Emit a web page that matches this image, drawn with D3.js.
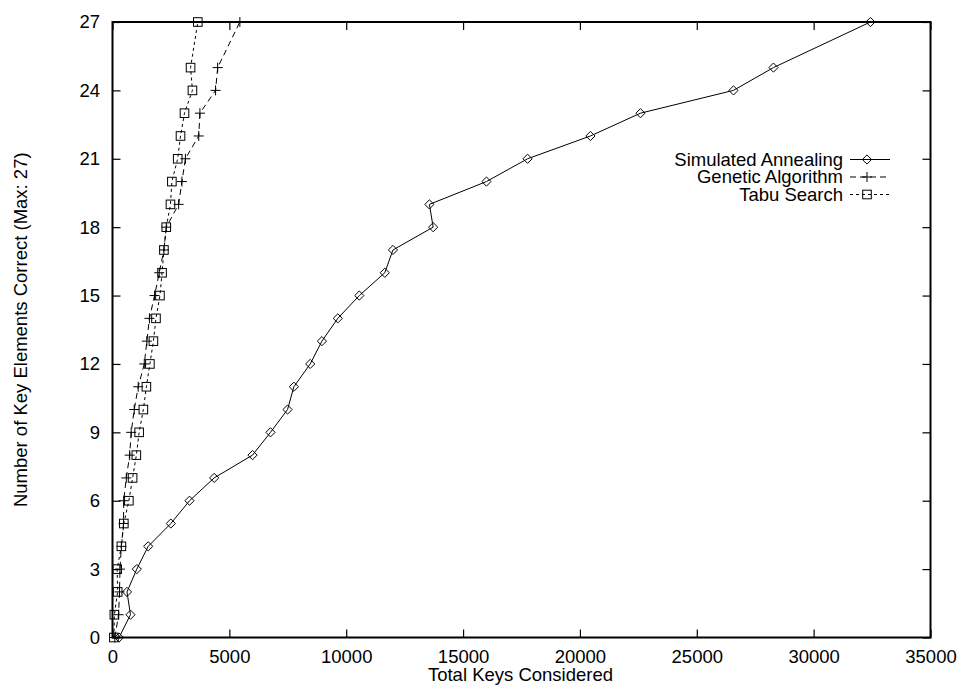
<!DOCTYPE html>
<html>
<head>
<meta charset="utf-8">
<script src="https://cdn.jsdelivr.net/npm/d3@7"></script>
<style>
  html, body { margin: 0; padding: 0; background: #fff; }
  svg { display: block; }
  text { font-family: "Liberation Sans", Arial, Helvetica, sans-serif; fill: #000; }
</style>
</head>
<body>
<svg id="chart" width="959" height="686"></svg>
<script>
// ---- data ----
const levels = [0,1,2,3,4,5,6,7,8,9,10,11,12,13,14,15,16,17,18,19,20,21,22,23,24,25,27];
const saKeys = [280,770,620,1040,1527,2495,3295,4350,5990,6760,7490,7760,8460,8960,9640,10560,11650,12000,13720,13560,16000,17760,20450,22590,26570,28280,32430];
const gaKeys = [100,260,300,320,380,470,480,590,735,800,930,1100,1360,1470,1580,1800,2000,2200,2300,2830,2970,3120,3690,3740,4410,4500,5450];
const tabuKeys = [60,80,220,200,380,485,700,860,1020,1140,1320,1450,1600,1750,1860,2030,2120,2200,2300,2480,2540,2790,2910,3080,3420,3340,3650];
const seriesNames = ["Simulated Annealing","Genetic Algorithm","Tabu Search"];
const xTicks = [0,5000,10000,15000,20000,25000,30000,35000];
const yTicks = [0,3,6,9,12,15,18,21,24,27];
const xTitle = "Total Keys Considered";
const yTitle = "Number of Key Elements Correct (Max: 27)";

// ---- layout ----
const L = 112.5, R = 930.5, T = 22, B = 637.5;
const svg = d3.select("#chart");
const x = d3.scaleLinear().domain([0,35000]).range([L,R]);
const y = d3.scaleLinear().domain([0,27]).range([B,T]);
const FS = 18.5;

const series = [
  {name: seriesNames[0], keys: saKeys, dash: null, marker: "diamond"},
  {name: seriesNames[1], keys: gaKeys, dash: "6,4", marker: "plus"},
  {name: seriesNames[2], keys: tabuKeys, dash: "3,3", marker: "square"}
];

// axes (ticks inside, mirrored)
const tickLen = 8;
const axB = svg.append("g").attr("transform",`translate(0,${B})`)
  .call(d3.axisBottom(x).tickValues(xTicks).tickSize(-tickLen).tickFormat(d3.format("d")).tickPadding(12.5));
const axT = svg.append("g").attr("transform",`translate(0,${T})`)
  .call(d3.axisTop(x).tickValues(xTicks).tickSize(-tickLen).tickFormat(""));
const axL = svg.append("g").attr("transform",`translate(${L},0)`)
  .call(d3.axisLeft(y).tickValues(yTicks).tickSize(-tickLen).tickPadding(12.5));
const axR = svg.append("g").attr("transform",`translate(${R},0)`)
  .call(d3.axisRight(y).tickValues(yTicks).tickSize(-tickLen).tickFormat(""));
[axB,axT,axL,axR].forEach(a => {
  a.select(".domain").remove();
  a.selectAll(".tick line").attr("stroke","#000").attr("stroke-width",1.2);
  a.selectAll(".tick text").attr("font-size",FS).attr("font-family","Liberation Sans, Arial, sans-serif").attr("fill","#000");
});
axB.selectAll(".tick text").attr("dy","0.72em");

// frame
svg.append("rect").attr("x",L).attr("y",T).attr("width",R-L).attr("height",B-T)
  .attr("fill","none").attr("stroke","#000").attr("stroke-width",2);

// titles
svg.append("text").attr("x",(L+R)/2 - 1).attr("y",681).attr("text-anchor","middle")
  .attr("font-size",FS).text(xTitle);
svg.append("text").attr("transform",`translate(27,${(T+B)/2}) rotate(-90)`)
  .attr("text-anchor","middle").attr("font-size",FS).text(yTitle);

// marker drawing
function drawMarker(g, type, cx, cy) {
  if (type === "diamond") {
    const s = 4.6;
    g.append("path").attr("d",`M${cx-s},${cy}L${cx},${cy-s}L${cx+s},${cy}L${cx},${cy+s}Z`)
      .attr("fill","none").attr("stroke","#000").attr("stroke-width",1);
  } else if (type === "plus") {
    const s = 5;
    g.append("path").attr("d",`M${cx-s},${cy}H${cx+s}M${cx},${cy-s}V${cy+s}`)
      .attr("fill","none").attr("stroke","#000").attr("stroke-width",1);
  } else {
    const s = 4.3;
    g.append("rect").attr("x",cx-s).attr("y",cy-s).attr("width",2*s).attr("height",2*s)
      .attr("fill","none").attr("stroke","#000").attr("stroke-width",1);
  }
}

const line = d3.line().x(d => x(d[0])).y(d => y(d[1]));
series.forEach(s => {
  const pts = s.keys.map((k,i) => [k, levels[i]]);
  const g = svg.append("g");
  g.append("path").datum(pts).attr("d",line).attr("fill","none").attr("stroke","#000")
    .attr("stroke-width",1).attr("stroke-dasharray",s.dash);
  pts.forEach(p => drawMarker(g, s.marker, x(p[0]), y(p[1])));
});

// legend
const legY = [159.5, 177, 194.5];
series.forEach((s,i) => {
  const g = svg.append("g");
  g.append("text").attr("x",843).attr("y",legY[i]).attr("dy","0.35em")
    .attr("text-anchor","end").attr("font-size",FS).text(s.name);
  g.append("line").attr("x1",850).attr("x2",890).attr("y1",legY[i]).attr("y2",legY[i])
    .attr("stroke","#000").attr("stroke-width",1).attr("stroke-dasharray",s.dash);
  drawMarker(g, s.marker, 867, legY[i]);
});
</script>
</body>
</html>
